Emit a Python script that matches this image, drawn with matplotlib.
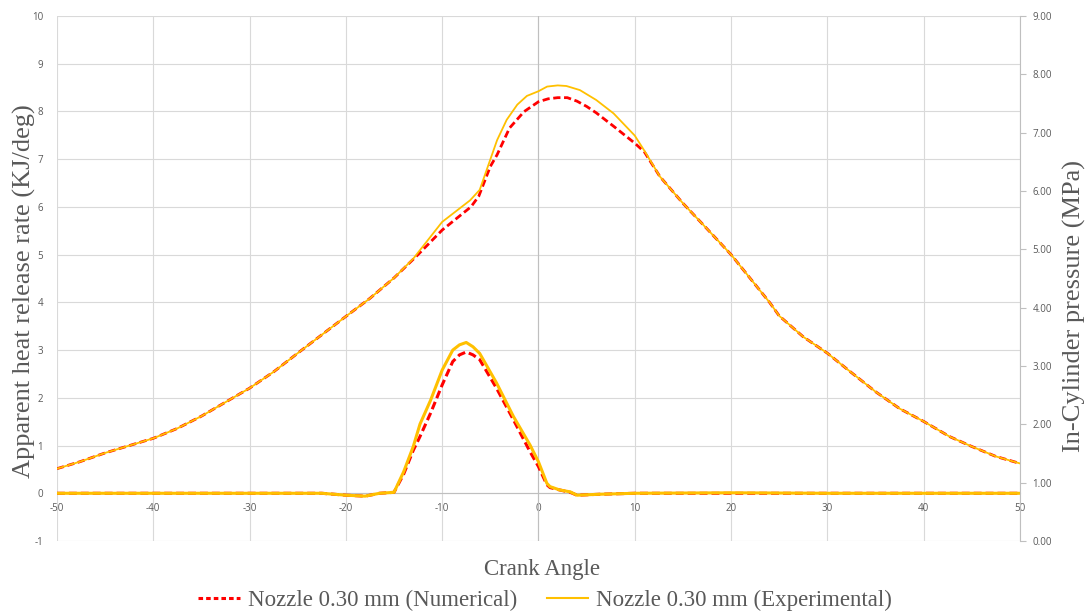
import matplotlib
matplotlib.use("Agg")
import matplotlib.pyplot as plt
from matplotlib.lines import Line2D
from matplotlib.ticker import FormatStrFormatter

plt.rcParams['axes.unicode_minus'] = False

# ── Datos: presión en cilindro (MPa, eje derecho) ─────────────────────────────
ang_p_num = [-50, -47.6, -45, -40, -37.5, -35, -30, -27.5, -25, -20, -17.5, -15,
             -12.5, -10, -7, -6.2, -5, -4.3, -3, -1.5, 0, 1, 2, 3, 4, 5, 6, 7.8,
             10, 11, 12.6, 15, 17.4, 20, 24, 25, 27.5, 30, 32.4, 35, 37.5, 40,
             42.7, 45, 47.5, 50]
p_num = [1.24, 1.36, 1.51, 1.76, 1.93, 2.14, 2.62, 2.90, 3.22, 3.85, 4.16, 4.51,
         4.91, 5.33, 5.73, 5.91, 6.42, 6.62, 7.08, 7.36, 7.53, 7.58, 7.60, 7.60,
         7.54, 7.45, 7.34, 7.11, 6.82, 6.67, 6.25, 5.79, 5.37, 4.91, 4.09, 3.86,
         3.50, 3.22, 2.90, 2.56, 2.27, 2.05, 1.79, 1.62, 1.45, 1.33]

ang_p_exp = [-50, -47.6, -45, -40, -37.5, -35, -30, -27.5, -25, -20, -17.5, -15,
             -13, -10, -7.1, -6.1, -5, -4.3, -3.3, -2.2, -1.2, 0, 0.9, 2, 2.9, 4.3,
             6, 7.8, 10, 11, 12.6, 15, 17.4, 20, 24, 25, 27.5, 30, 32.4, 35, 37.5,
             40, 42.7, 45, 47.5, 50]
p_exp = [1.24, 1.36, 1.51, 1.76, 1.93, 2.14, 2.62, 2.90, 3.22, 3.85, 4.16, 4.51,
         4.84, 5.47, 5.84, 6.02, 6.54, 6.87, 7.22, 7.48, 7.63, 7.71, 7.79, 7.81,
         7.80, 7.73, 7.56, 7.33, 6.95, 6.69, 6.25, 5.79, 5.37, 4.91, 4.09, 3.86,
         3.50, 3.22, 2.90, 2.56, 2.27, 2.05, 1.79, 1.62, 1.45, 1.33]

# ── Datos: tasa aparente de liberación de calor (KJ/deg, eje izquierdo) ───────
ang_q = [-50, -40, -30, -22.5, -20, -18, -16.5, -15, -14, -13, -12.3, -11.2, -10,
         -8.9, -8.2, -7.5, -6.8, -6.1, -4.35, -2.6, -0.87, 0, 0.87, 1.2, 2.2, 3.3,
         4, 6.4, 10, 20, 30, 40, 50]
q_num = [0, 0, 0, 0, -0.04, -0.06, 0, 0.02, 0.4, 0.9, 1.19, 1.68, 2.27, 2.76, 2.9,
         2.96, 2.9, 2.8, 2.2, 1.54, 0.87, 0.56, 0.18, 0.12, 0.07, 0.02, -0.04,
         -0.02, 0, 0, 0, 0, 0]
q_exp = [0, 0, 0, 0, -0.04, -0.06, 0, 0.02, 0.45, 0.98, 1.45, 1.95, 2.58, 3.0,
         3.11, 3.16, 3.07, 2.93, 2.31, 1.61, 1.01, 0.66, 0.21, 0.14, 0.07, 0.03,
         -0.04, -0.02, 0, 0.01, 0, 0, 0]

x_ticks = list(range(-50, 51, 10))
y_ticks_left = list(range(-1, 11))
y_ticks_right = list(range(0, 10))

ROJO = '#FF0000'
AMARILLO = '#FFC000'
GRIS_TXT = '#595959'
GRIS_EJE = '#BFBFBF'
GRIS_GRID = '#D9D9D9'
SERIF = 'Liberation Serif'
SANS = 'Open Sans'
T_TIT = 16.5
T_VERT = 19

fig = plt.figure(figsize=(10.89, 6.15), dpi=100)
ax = fig.add_axes([0.0523, 0.1203, 0.8843, 0.8537])

ax.set_xlim(-50, 50)
ax.set_ylim(-1, 10)
ax.set_xticks(x_ticks)
ax.set_yticks(y_ticks_left)
ax.grid(True, color=GRIS_GRID, linewidth=0.8)
ax.set_axisbelow(True)
for s in ('left', 'top', 'right'):
    ax.spines[s].set_visible(False)
ax.spines['bottom'].set_position(('data', 0))
ax.spines['bottom'].set_color(GRIS_EJE)
ax.spines['bottom'].set_linewidth(0.8)
ax.axvline(0, color=GRIS_EJE, linewidth=0.8, zorder=1)
ax.tick_params(axis='x', length=0, pad=7, labelsize=7, labelcolor=GRIS_TXT)
ax.tick_params(axis='y', length=0, pad=10, labelsize=7, labelcolor=GRIS_TXT)
for lab in ax.get_xticklabels() + ax.get_yticklabels():
    lab.set_fontfamily(SANS)

# curvas de liberación de calor
ax.plot(ang_q, q_num, color=ROJO, linewidth=2.2, dashes=(2.6, 1.3), zorder=3)
ax.plot(ang_q, q_exp, color=AMARILLO, linewidth=2.2, zorder=4)

# eje derecho: presión
ax2 = ax.twinx()
ax2.set_ylim(0, 9)
ax2.set_yticks(y_ticks_right)
ax2.yaxis.set_major_formatter(FormatStrFormatter('%.2f'))
for s in ('left', 'top', 'bottom'):
    ax2.spines[s].set_visible(False)
ax2.spines['right'].set_color(GRIS_EJE)
ax2.spines['right'].set_linewidth(0.8)
ax2.tick_params(axis='y', length=4, width=0.8, color=GRIS_EJE, pad=5,
                labelsize=7, labelcolor=GRIS_TXT)
for lab in ax2.get_yticklabels():
    lab.set_fontfamily(SANS)

ax2.plot(ang_p_num, p_num, color=ROJO, linewidth=2.0, dashes=(2.6, 1.3), zorder=3)
ax2.plot(ang_p_exp, p_exp, color=AMARILLO, linewidth=1.3, zorder=4)

# títulos de ejes
fig.text(24 / 1089, 1 - 291 / 615, 'Apparent heat release rate (KJ/deg)', rotation=90,
         ha='center', va='center', fontfamily=SERIF, fontsize=T_VERT, color=GRIS_TXT)
fig.text(1074 / 1089, 1 - 306 / 615, 'In-Cylinder pressure (MPa)', rotation=90,
         ha='center', va='center', fontfamily=SERIF, fontsize=T_VERT, color=GRIS_TXT)
fig.text(542 / 1089, 1 - 570 / 615, 'Crank Angle', ha='center', va='center',
         fontfamily=SERIF, fontsize=T_TIT, color=GRIS_TXT)

handles = [Line2D([], [], color=ROJO, linewidth=2.2, dashes=(1.5, 1.0)),
           Line2D([], [], color=AMARILLO, linewidth=1.5)]
labels = ['Nozzle 0.30 mm (Numerical)', 'Nozzle 0.30 mm (Experimental)']
fig.legend(handles, labels, loc='center', bbox_to_anchor=(545 / 1089, 1 - 600 / 615),
           ncol=2, frameon=False, handlelength=1.8, handletextpad=0.35,
           columnspacing=1.3, labelcolor=GRIS_TXT,
           prop={'family': SERIF, 'size': T_TIT})

fig.savefig('out.png', dpi=100)
